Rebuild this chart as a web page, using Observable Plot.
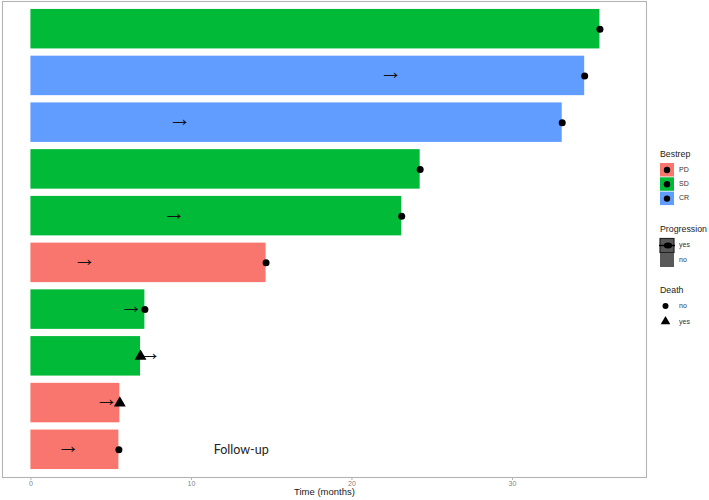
<!DOCTYPE html>
<html>
<head>
<meta charset="utf-8">
<script src="https://cdn.jsdelivr.net/npm/d3@7"></script>
<script src="https://cdn.jsdelivr.net/npm/@observablehq/plot@0.6"></script>
<style>
  html, body { margin: 0; padding: 0; background: #fff; }
  #wrap { position: relative; width: 709px; height: 500px; }
  #legend { position: absolute; left: 0; top: 0; pointer-events: none; }
</style>
</head>
<body>
<div id="wrap"></div>
<script>
// ---- data (top to bottom) ----
const patients = ["1","2","3","4","5","6","7","8","9","10"];
const bestrep = ["SD","CR","CR","SD","SD","PD","SD","SD","PD","PD"];
const followUp = [35.45, 34.5, 33.1, 24.25, 23.1, 14.65, 7.1, 6.83, 5.54, 5.48];
const progressionTime = [null, 22.4, 9.25, null, 8.9, 3.33, 6.23, 7.39, 4.7, 2.31];
const death = ["no","no","no","no","no","no","no","yes","yes","no"];

const responseCats = ["PD","SD","CR"];
const responseColors = ["#F8766D","#00BA38","#619CFF"];
const xTicks = [0, 10, 20, 30];
const annotation = [{x: 13.1, text: "Follow-up", id: "10"}];

const rows = patients.map((id, i) => ({
  id, resp: bestrep[i], end: followUp[i], prog: progressionTime[i], death: death[i]
}));

const plot = Plot.plot({
  width: 709,
  height: 500,
  marginLeft: 2,
  marginRight: 63,
  marginTop: 1,
  marginBottom: 23,
  style: {fontFamily: "'Liberation Sans', Arial, sans-serif", background: "#fff"},
  x: {domain: [-1.77, 38.35]},
  y: {type: "band", domain: patients, paddingInner: 0.155, paddingOuter: 0.17, round: false, axis: null},
  color: {domain: responseCats, range: responseColors},
  marks: [
    Plot.barX(rows, {x1: 0, x2: "end", y: "id", fill: "resp"}),
    Plot.frame({stroke: "#b3b3b3", strokeWidth: 1.1}),
    Plot.axisX({ticks: xTicks, tickSize: 3, tickPadding: 0.5, fontSize: 7, stroke: "#b3b3b3", color: "#7f7f7f",
      label: null}),
    Plot.text(["Time (months)"], {frameAnchor: "bottom", dy: 17.5, fontSize: 9.5, fill: "#1a1a1a", text: d => d}),
    Plot.text(rows.filter(d => d.prog != null), {x: "prog", y: "id", text: () => "→", fontSize: 23,
      fill: "#111", fontFamily: "'Liberation Sans', sans-serif", dy: -4}),
    Plot.dot(rows.filter(d => d.death === "no"), {x: "end", y: "id", r: 3.5, fill: "black", symbol: "circle"}),
    Plot.dot(rows.filter(d => d.death === "yes"), {x: "end", y: "id", r: 4.4, fill: "black", symbol: "triangle"}),
    Plot.text(annotation, {x: "x", y: "id", text: "text", fontSize: 12.5, fill: "#222",
      fontFamily: "Lato, 'Open Sans', sans-serif"})
  ]
});

const wrap = document.getElementById("wrap");
wrap.appendChild(plot);

// ---- legend overlay ----
const svg = d3.select(wrap).append("svg")
  .attr("id", "legend").attr("width", 709).attr("height", 500)
  .style("font-family", "'Liberation Sans', Arial, sans-serif");

const lx = 660, key = 14;
function title(t, y) {
  svg.append("text").attr("x", lx).attr("y", y).attr("font-size", 8.8).attr("fill", "#222")
    .attr("dominant-baseline", "middle").text(t);
}
function label(t, y) {
  svg.append("text").attr("x", lx + 19).attr("y", y).attr("font-size", 7).attr("fill", "#333")
    .attr("dominant-baseline", "middle").text(t);
}
title("Bestrep", 155);
responseCats.forEach((c, i) => {
  const y0 = 163 + i * 14.3;
  svg.append("rect").attr("x", lx).attr("y", y0).attr("width", key).attr("height", key - 0.5)
    .attr("fill", responseColors[i]);
  svg.append("circle").attr("cx", lx + key / 2).attr("cy", y0 + key / 2).attr("r", 3.2).attr("fill", "black");
  label(c, y0 + key / 2);
});
title("Progression", 230);
[["yes", true], ["no", false]].forEach(([t, mark], i) => {
  const y0 = 238.5 + i * 14.5;
  svg.append("rect").attr("x", lx).attr("y", y0).attr("width", key).attr("height", key)
    .attr("fill", "#595959").attr("stroke", mark ? "#222" : "none").attr("stroke-width", mark ? 1.2 : 0);
  if (mark) {
    svg.append("line").attr("x1", lx - 1).attr("x2", lx + key + 1).attr("y1", y0 + key / 2).attr("y2", y0 + key / 2)
      .attr("stroke", "black").attr("stroke-width", 1.4);
    svg.append("ellipse").attr("cx", lx + key / 2 + 1).attr("cy", y0 + key / 2).attr("rx", 4.2).attr("ry", 3)
      .attr("fill", "black");
  }
  label(t, y0 + key / 2);
});
title("Death", 291);
svg.append("circle").attr("cx", lx + 5.5).attr("cy", 306).attr("r", 3).attr("fill", "black");
label("no", 306);
svg.append("path").attr("d", d3.symbol(d3.symbolTriangle, 40)()).attr("transform", `translate(${lx + 5.5},321.5)`)
  .attr("fill", "black");
label("yes", 322);
</script>
</body>
</html>
